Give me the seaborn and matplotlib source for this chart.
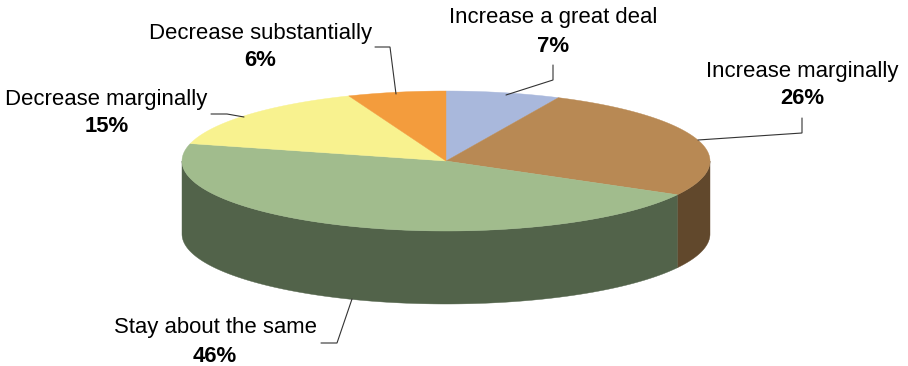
import numpy as np
import matplotlib
matplotlib.use("Agg")
import matplotlib.pyplot as plt
import seaborn as sns

categories = ["Increase a great deal", "Increase marginally", "Stay about the same",
              "Decrease marginally", "Decrease substantially"]
values = [7, 26, 46, 15, 6]
top_colors = ["#A9B8DC", "#B88954", "#A1BC8D", "#F8F28F", "#F39C3D"]
side_colors = ["#6B7890", "#61482C", "#52634A", "#A09B5C", "#9C6428"]

label_pos = [(553, 18), (802, 71), (215, 328), (106.5, 99), (260.5, 33)]
leaders = [
    [(506, 95), (553, 80), (553, 65)],
    [(698, 140), (802, 133), (802, 118)],
    [(352, 299), (337, 343), (321, 343)],
    [(244, 117), (227, 114), (211, 114)],
    [(396, 94), (390, 47), (375, 47)],
]

sns.set_theme(style="white")
plt.rcParams["font.family"] = ["Liberation Sans", "DejaVu Sans"]

W, H = 908, 366
CX, CY, RX, RY, DEPTH = 446, 161, 264, 70, 73

fig = plt.figure(figsize=(W / 100, H / 100), dpi=100)
ax = fig.add_axes([0, 0, 1, 1])
ax.set_xlim(0, W)
ax.set_ylim(H, 0)
ax.axis("off")


def rim(a0, a1, dy=0.0):
    t = np.radians(np.linspace(a0, a1, 200))
    return CX + RX * np.sin(t), CY + dy - RY * np.cos(t)


edges = np.concatenate([[0], np.cumsum(values)]) / np.sum(values) * 360

# side wall: only the front half of the ellipse (90 to 270 degrees) is visible
for a0, a1, c in zip(edges[:-1], edges[1:], side_colors):
    lo, hi = max(a0, 90), min(a1, 270)
    if lo < hi:
        x0, y0 = rim(lo, hi)
        x1, y1 = rim(lo, hi, DEPTH)
        ax.fill(np.r_[x0, x1[::-1]], np.r_[y0, y1[::-1]], color=c, lw=0.3, zorder=1)

# top face
for a0, a1, c in zip(edges[:-1], edges[1:], top_colors):
    x, y = rim(a0, a1)
    ax.fill(np.r_[CX, x], np.r_[CY, y], color=c, lw=0.3, zorder=2)

# leader lines
for pts in leaders:
    xs, ys = zip(*pts)
    ax.plot(xs, ys, color="#333333", lw=0.8, zorder=3, solid_joinstyle="miter")

# labels
for name, v, (x, y) in zip(categories, values, label_pos):
    ax.text(x, y, name, ha="center", va="center", fontsize=15.95, color="black")
    ax.text(x, y + 28, f"{v}%", ha="center", va="center", fontsize=15.95,
            fontweight="bold", color="black")

sns.despine(ax=ax, left=True, bottom=True)
fig.savefig("out.png", dpi=100, facecolor="white")
